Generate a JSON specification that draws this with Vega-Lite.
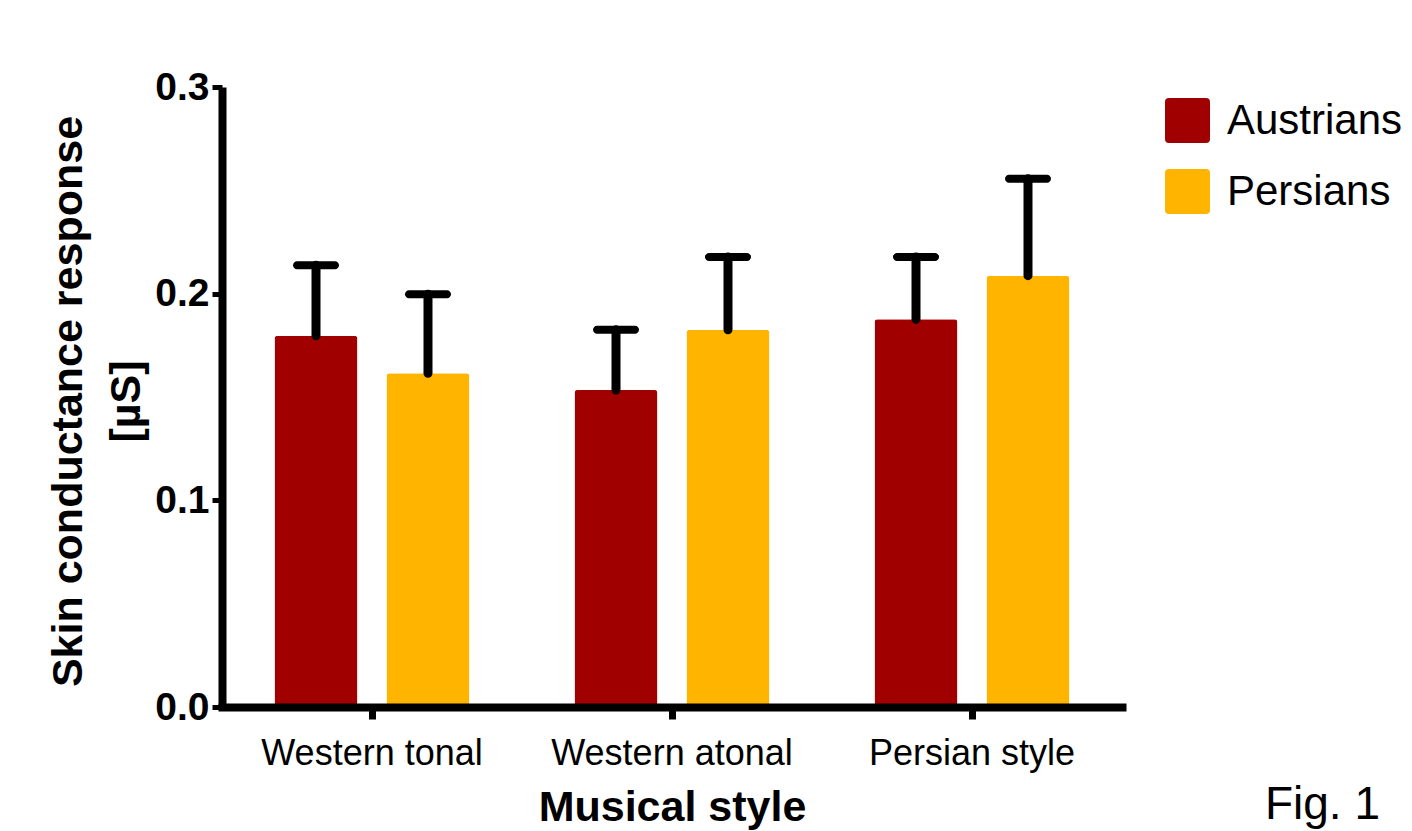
{
  "$schema": "https://vega.github.io/schema/vega-lite/v6.json",
  "width": 900,
  "height": 620,
  "autosize": {"type": "none"},
  "padding": {"left": 222, "top": 87, "right": 290, "bottom": 124},
  "background": "white",
  "config": {
    "view": {"stroke": null},
    "font": "Liberation Sans"
  },
  "title": {
    "text": "Fig. 1",
    "orient": "bottom",
    "anchor": "end",
    "frame": "group",
    "dx": 258,
    "offset": -10,
    "baseline": "alphabetic",
    "fontSize": 46,
    "fontWeight": "normal",
    "color": "black"
  },
  "data": {
    "values": [
      {"style": "Western tonal", "group": "Austrians", "mean": 0.1796, "upper": 0.2138},
      {"style": "Western tonal", "group": "Persians", "mean": 0.1615, "upper": 0.1997},
      {"style": "Western atonal", "group": "Austrians", "mean": 0.1534, "upper": 0.1826},
      {"style": "Western atonal", "group": "Persians", "mean": 0.1825, "upper": 0.2178},
      {"style": "Persian style", "group": "Austrians", "mean": 0.1876, "upper": 0.2178},
      {"style": "Persian style", "group": "Persians", "mean": 0.2087, "upper": 0.2556}
    ]
  },
  "encoding": {
    "x": {
      "field": "style",
      "type": "nominal",
      "sort": ["Western tonal", "Western atonal", "Persian style"],
      "scale": {"paddingInner": 0, "paddingOuter": 0},
      "axis": {
        "title": "Musical style",
        "labelAngle": 0,
        "labelLimit": 0,
        "domainWidth": 8,
        "domainColor": "black",
        "domainCap": "square",
        "tickColor": "black",
        "tickWidth": 7,
        "tickSize": 12,
        "labelFontSize": 36,
        "labelColor": "black",
        "labelBaseline": "alphabetic",
        "labelPadding": 45,
        "titleFontSize": 43,
        "titleFontWeight": "bold",
        "titleColor": "black",
        "titleBaseline": "alphabetic",
        "titleY": 113,
        "zindex": 1
      }
    },
    "xOffset": {
      "field": "group",
      "sort": ["Austrians", "Persians"],
      "scale": {"paddingInner": 0.259, "paddingOuter": 0.469}
    }
  },
  "layer": [
    {
      "mark": {"type": "bar", "cornerRadiusTopLeft": 3, "cornerRadiusTopRight": 3},
      "encoding": {
        "y": {
          "field": "mean",
          "type": "quantitative",
          "scale": {"domain": [0, 0.3], "nice": false},
          "axis": {
            "title": ["Skin conductance response", "[µS]"],
            "values": [0, 0.1, 0.2, 0.3],
            "format": ".1f",
            "grid": false,
            "domainWidth": 8,
            "domainColor": "black",
            "tickColor": "black",
            "tickWidth": 5,
            "tickSize": 10,
            "labelFontSize": 39,
            "labelFontWeight": "bold",
            "labelColor": "black",
            "labelPadding": 3,
            "labelBaseline": "middle",
            "labelFlush": false,
            "labelOverlap": false,
            "titleFontSize": 43,
            "titleFontWeight": "bold",
            "titleColor": "black",
            "titleLineHeight": 58,
            "titleLimit": 0,
            "titleAngle": -90,
            "titleAlign": "center",
            "titleBaseline": "middle",
            "titleX": -154,
            "titleY": 314,
            "zindex": 1
          }
        },
        "color": {
          "field": "group",
          "type": "nominal",
          "scale": {"domain": ["Austrians", "Persians"], "range": ["#A00000", "#FFB400"]},
          "legend": {
            "title": null,
            "orient": "none",
            "legendX": 943,
            "legendY": 11,
            "padding": 0,
            "symbolType": "M-0.82,-1H0.82Q1,-1,1,-0.82V0.82Q1,1,0.82,1H-0.82Q-1,1,-1,0.82V-0.82Q-1,-1,-0.82,-1Z",
            "symbolSize": 2025,
            "symbolStrokeWidth": 0,
            "symbolOpacity": 1,
            "labelFontSize": 42,
            "labelColor": "black",
            "labelLimit": 0,
            "labelOffset": 17,
            "rowPadding": 26
          }
        }
      }
    },
    {
      "mark": {"type": "rule", "strokeWidth": 9, "strokeCap": "round", "color": "black"},
      "encoding": {
        "y": {"field": "mean", "type": "quantitative"},
        "y2": {"field": "upper"}
      }
    },
    {
      "mark": {"type": "tick", "thickness": 8, "size": 46, "cornerRadius": 4, "color": "black", "opacity": 1},
      "encoding": {
        "y": {"field": "upper", "type": "quantitative"}
      }
    }
  ]
}
